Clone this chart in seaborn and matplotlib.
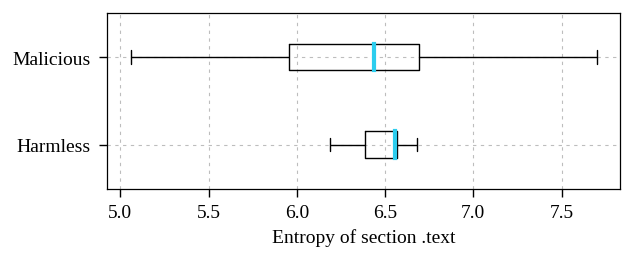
import numpy as np
import pandas as pd
import matplotlib
matplotlib.use("Agg")
import matplotlib.pyplot as plt
import seaborn as sns

# five-number summaries (min, q1, median, q3, max)
categories = ["Malicious", "Harmless"]
malicious_stats = [5.06, 5.957, 6.438, 6.690, 7.70]
harmless_stats = [6.19, 6.387, 6.557, 6.565, 6.68]
xticks = [5.0, 5.5, 6.0, 6.5, 7.0, 7.5]

sns.set_theme(style="white")
plt.rcParams["font.family"] = ["Liberation Serif", "DejaVu Serif"]

df = pd.DataFrame({
    "entropy": malicious_stats + harmless_stats,
    "cls": [categories[0]] * 5 + [categories[1]] * 5,
})

fig = plt.figure(figsize=(6.41, 2.55), dpi=100)
ax = fig.add_axes([0.1674, 0.255, 0.7996, 0.69])

sns.boxplot(
    data=df, x="entropy", y="cls", order=categories, ax=ax,
    orient="h", width=0.304, whis=(0, 100), fill=False, color="black",
    linewidth=1.0, showfliers=False,
    medianprops=dict(color="#2ccdee", linewidth=3.0, solid_capstyle="projecting"),
    capprops=dict(color="black", linewidth=1.0),
    whiskerprops=dict(color="black", linewidth=1.0),
    boxprops=dict(color="black", linewidth=1.0),
)

ax.set_xlim(4.926, 7.83)
ax.set_ylim(1.505, -0.502)
ax.set_xticks(xticks)
ax.set_xticklabels([f"{t:.1f}" for t in xticks])
ax.grid(True, linestyle=(0, (3, 4)), color="#bdbdbd", linewidth=0.8)
ax.set_axisbelow(True)
for s in ax.spines.values():
    s.set_color("black")
    s.set_linewidth(0.9)
ax.tick_params(axis="both", direction="out", length=5.8, width=1, color="black",
               labelsize=14, labelcolor="black", bottom=True, left=True)
ax.tick_params(axis="y", pad=6.5)
ax.tick_params(axis="x", pad=5)
ax.set_xlabel("Entropy of section .text", fontsize=14, color="black", labelpad=5)
ax.set_ylabel("")

fig.savefig("out.png", dpi=100)
